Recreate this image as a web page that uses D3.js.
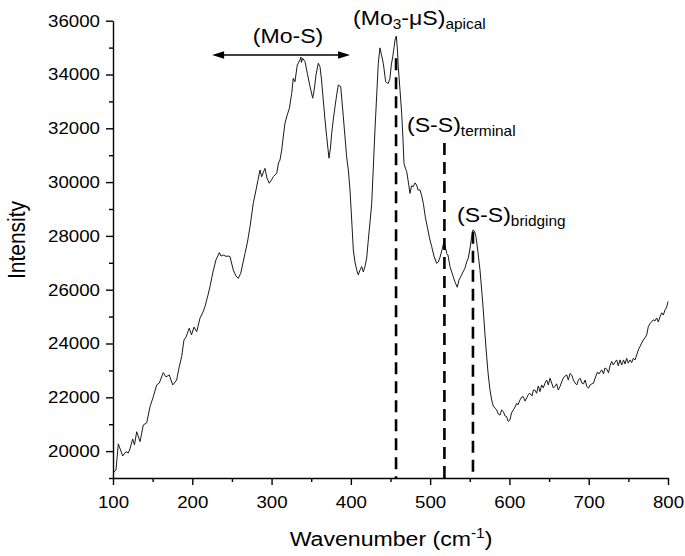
<!DOCTYPE html>
<html>
<head>
<meta charset="utf-8">
<script src="https://cdn.jsdelivr.net/npm/d3@7/dist/d3.min.js"></script>
<style>
  html, body { margin: 0; padding: 0; background: #fff; }
  svg { display: block; }
  text { font-family: "Liberation Sans", Arial, Helvetica, sans-serif; fill: #000; }
</style>
</head>
<body>
<svg id="chart" width="685" height="556"></svg>
<script>
// ---------------- data ----------------
const wavenumber = [100,103.8,106.7,112.2,116.4,119.3,121.4,124.8,127.1,129.9,134.1,138.2,142.5,146.7,150.8,155.1,158.4,163.4,166.8,171.0,175.3,180.3,183.2,186.6,189.5,192.1,196.2,199.0,202.2,205.6,209.7,213.5,216.0,219.8,222.3,226.1,229.9,234.1,236.2,239.1,242.5,245.4,247.6,251.7,255.1,258.0,261.1,266.5,269.6,272.8,276.9,280.4,282.9,285.4,287.5,289.8,291.7,294.2,297.1,299.9,302.2,306.5,308.7,310.6,312.8,315.0,316.9,319.4,322.4,325.4,327.4,329.5,332.4,335.8,337.0,337.7,339.2,342.2,345.1,348.5,351.9,354.1,356.0,358.9,361.1,363.0,365.2,367.4,369.5,372.4,374.3,375.8,378.1,380.0,382.1,384.2,387.2,390.5,394.7,396.8,398.9,401.4,403.1,405.2,407.4,409.4,411.5,413.7,415.7,417.8,420.0,422.0,424.2,426.3,428.3,430.4,432.6,434.6,436.7,438.6,440.9,443.9,445.6,447.2,449.3,451.0,452.8,454.4,455.7,457.3,458.6,459.8,462.0,464.1,465.8,467.0,468.7,470.4,472.1,474.6,476.5,478.7,480.9,483.0,484.7,487.2,489.1,491.4,494.1,496.4,499.2,502.0,504.8,508.2,510.3,512.4,514.9,517.5,519.1,520.9,522.5,525.0,527.2,529.2,531.3,534.2,536.4,538.5,540.8,543.9,546.1,548.1,550.3,552.4,554.0,555.9,557.8,560.3,562.9,565.0,567.0,569.2,571.3,573.3,575.5,577.6,579.6,581.8,583.9,585.9,588.1,590.2,592.3,594.4,596.5,598.6,600.7,602.6,604.9,607.1,609.2,610.8,613.3,615.5,617.5,619.6,621.8,624.1,625.9,628.5,630.3,632.2,634.3,636.4,638.5,640.7,642.7,644.8,647.0,649.0,651.2,653.3,655.3,657.5,659.6,661.6,663.8,665.9,668.0,670.1,672.3,674.3,676.5,678.6,680.7,682.8,685.0,687.0,689.2,691.3,693.4,695.5,697.6,699.7,701.8,704.0,706.0,708.2,711.1,713.0,716.4,718.7,720.5,722.7,725.0,726.8,729.0,731.0,733.2,735.3,737.3,739.5,741.6,743.9,745.8,747.9,749.9,752.1,754.2,756.2,758.4,760.5,762.5,764.7,766.8,768.9,771.0,773.1,775.1,777.3,779.4,781.5,783.6,785.7,787.8,790.0,792.1,794.1,796.3,798.4,800];
const intensity = [19190,19300,20270,19820,19980,19930,20080,20450,20230,20720,20350,20970,21050,21650,22020,22460,22530,22920,22760,22830,22460,22640,23090,23510,24130,24240,24570,24320,24610,24440,24940,25170,25370,25800,26110,26660,27110,27380,27250,27290,27240,27250,27230,26730,26510,26420,26610,27350,27770,28340,29210,29710,30080,30450,30200,30380,30510,30150,29960,30080,30200,30330,30710,30820,31190,31750,32190,32460,32740,33300,33860,33730,34350,34540,34650,34450,34600,34480,34040,33550,33120,33500,33980,34420,34290,33800,33050,32310,31690,30890,31270,31810,32380,32800,33240,33610,33550,32430,30940,30450,29710,28410,27480,27030,26730,26550,26730,26860,26660,26860,27180,27850,28520,29210,30520,31940,33240,34420,34990,34730,34420,33730,33680,33670,33860,34350,34660,34990,35280,35430,34990,34290,33420,32560,31570,30700,30520,30390,30080,29580,29860,29830,29970,29890,29710,29710,29520,29210,28670,28340,27920,27600,27250,26980,27030,27200,27480,27790,27590,27350,27290,26860,26660,26480,26290,26090,26360,26480,26620,26800,27030,27170,27550,27970,28220,28180,27970,27400,26730,25990,25250,24320,23510,22830,22270,21900,21680,21600,21530,21380,21340,21530,21470,21310,21280,21100,21160,21420,21530,21640,21780,21720,21900,22010,22020,21860,21980,22120,22150,22050,22270,22270,22150,22420,22210,22460,22350,22520,22640,22460,22710,22530,22350,22400,22500,22270,22400,22570,22720,22790,22830,22640,22890,22830,22640,22530,22460,22640,22710,22530,22500,22640,22400,22340,22460,22500,22520,22720,22940,22870,23020,22870,23090,23050,22910,23170,23330,23200,23310,23390,23170,23390,23200,23390,23240,23450,23270,23390,23290,23450,23390,23570,23760,23890,24020,24130,24210,24320,24620,24750,24800,24880,24840,24950,24800,25000,25140,25060,25250,25360,25560];

const xMajorTicks = [100,200,300,400,500,600,700,800];
const xMinorTicks = [150,250,350,450,550,650,750];
const yMajorTicks = [20000,22000,24000,26000,28000,30000,32000,34000,36000];
const yMinorTicks = [19000,21000,23000,25000,27000,29000,31000,33000,35000];

const peakPositions = [457, 518, 554];          // dashed marker lines (cm-1)
const peakTops = [34600, 31450, 28150];          // intensity where each dashed line starts
const moSRange = [225, 399];                     // (Mo-S) arrow span (cm-1)
const moSLevel = 34725;                          // arrow intensity level

// ---------------- layout ----------------
const W = 685, H = 556;
const SX = 1.1; // horizontal text stretch of the original figure
const svg = d3.select("#chart");
const x = d3.scaleLinear().domain([100, 800]).range([113, 668]);
const y = d3.scaleLinear().domain([19000, 36000]).range([478, 20.7]);

// ---------------- curve ----------------
const pts = wavenumber.map((w, i) => [w, intensity[i]]);
svg.append("path")
  .datum(pts)
  .attr("fill", "none")
  .attr("stroke", "#1a1a1a")
  .attr("stroke-width", 1)
  .attr("stroke-linejoin", "round")
  .attr("d", d3.line().x(d => x(d[0])).y(d => y(d[1])));

// ---------------- dashed peak markers ----------------
svg.append("g").selectAll("line")
  .data(peakPositions)
  .join("line")
  .attr("x1", d => x(d)).attr("x2", d => x(d))
  .attr("y1", (d, i) => y(peakTops[i]))
  .attr("y2", y(19000))
  .attr("stroke", "#000")
  .attr("stroke-width", 2.6)
  .attr("stroke-dasharray", "12,7");

// ---------------- axes ----------------
const axisStyle = g => {
  g.selectAll("path.domain").attr("stroke", "#000").attr("stroke-width", 1.4);
  g.selectAll(".tick line").attr("stroke", "#000").attr("stroke-width", 1.4);
};

const gxMinor = svg.append("g").attr("transform", "translate(0,478)")
  .call(d3.axisBottom(x).tickValues(xMinorTicks).tickSize(4).tickSizeOuter(0).tickFormat(""))
  .call(axisStyle);
gxMinor.select("path.domain").remove();
const gx = svg.append("g").attr("transform", "translate(0,478)")
  .call(d3.axisBottom(x).tickValues(xMajorTicks).tickSize(7).tickSizeOuter(0).tickPadding(11).tickFormat(d3.format("d")))
  .call(axisStyle);
gx.selectAll("text")
  .attr("font-size", 17)
  .attr("font-family", "Liberation Sans, Arial, sans-serif")
  .attr("fill", "#000")
  .attr("transform", `scale(${SX},1)`);

const gyMinor = svg.append("g").attr("transform", "translate(113,0)")
  .call(d3.axisLeft(y).tickValues(yMinorTicks).tickSize(4).tickSizeOuter(0).tickFormat(""))
  .call(axisStyle);
gyMinor.select("path.domain").remove();
const gy = svg.append("g").attr("transform", "translate(113,0)")
  .call(d3.axisLeft(y).tickValues(yMajorTicks).tickSize(7).tickSizeOuter(0).tickPadding(6).tickFormat(d3.format("d")))
  .call(axisStyle);
gy.selectAll("text")
  .attr("font-size", 17)
  .attr("font-family", "Liberation Sans, Arial, sans-serif")
  .attr("fill", "#000")
  .attr("x", 0)
  .attr("transform", `translate(-13,0) scale(${SX},1)`);

// ---------------- axis titles ----------------
const xt = svg.append("g").attr("transform", `translate(391,546) scale(${SX},1)`)
  .append("text").attr("text-anchor", "middle").attr("font-size", 21);
xt.append("tspan").text("Wavenumber (cm");
xt.append("tspan").attr("font-size", 14).attr("dy", -8).text("-1");
xt.append("tspan").attr("dy", 8).text(")");

svg.append("g").attr("transform", `translate(25,240) scale(${SX},1) rotate(-90)`)
  .append("text").attr("text-anchor", "middle").attr("font-size", 21).text("Intensity");

// ---------------- annotations ----------------
function label(px, py, parts, anchor) {
  const t = svg.append("g").attr("transform", `translate(${px},${py}) scale(${SX},1)`)
    .append("text").attr("font-size", 21).attr("text-anchor", anchor || "start");
  parts.forEach(p => {
    const s = t.append("tspan").text(p.t);
    if (p.sub) s.attr("font-size", 14).attr("dy", p.dy);
    else if (p.dy) s.attr("dy", p.dy);
  });
}
label(288, 42.5, [{t: "(Mo-S)"}], "middle");
label(353, 25, [{t: "(Mo"}, {t: "3", sub: true, dy: 3.5}, {t: "-\u03BCS)", dy: -3.5}, {t: "apical", sub: true, dy: 3.5}]);
label(407, 132, [{t: "(S-S)"}, {t: "terminal", sub: true, dy: 4}]);
label(457, 222, [{t: "(S-S)"}, {t: "bridging", sub: true, dy: 4}]);

// double-headed arrow for (Mo-S)
const ax1 = x(moSRange[0]), ax2 = x(moSRange[1]), ay = y(moSLevel);
const headL = 12, headW = 3.8;
svg.append("line")
  .attr("x1", ax1 + headL - 1).attr("x2", ax2 - headL + 1)
  .attr("y1", ay).attr("y2", ay)
  .attr("stroke", "#000").attr("stroke-width", 1.3);
svg.append("path")
  .attr("d", `M${ax1},${ay} L${ax1 + headL},${ay - headW} L${ax1 + headL},${ay + headW} Z`)
  .attr("fill", "#000");
svg.append("path")
  .attr("d", `M${ax2},${ay} L${ax2 - headL},${ay - headW} L${ax2 - headL},${ay + headW} Z`)
  .attr("fill", "#000");
</script>
</body>
</html>
